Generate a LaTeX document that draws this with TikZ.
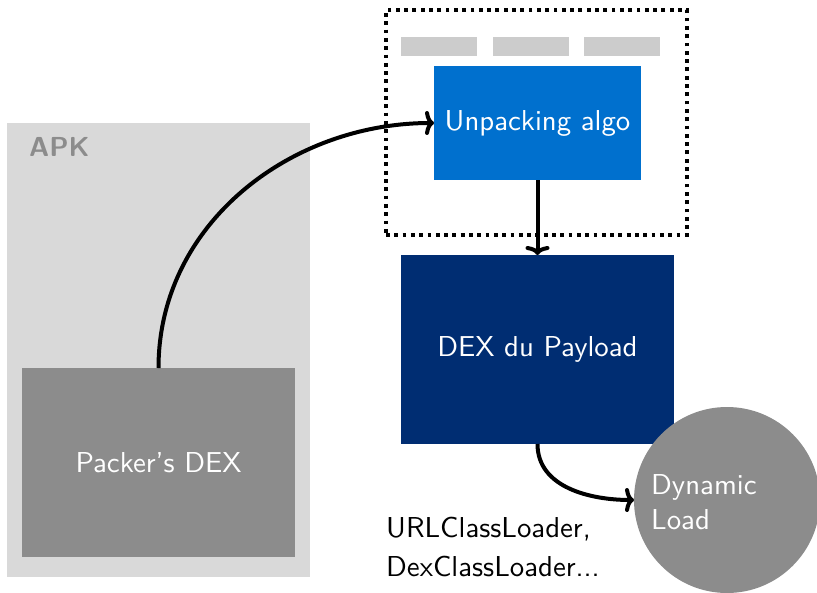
\documentclass[tikz,border=0pt]{standalone}
\usepackage{fontspec}
\usetikzlibrary{arrows.meta}
% Latin Modern Sans, 10pt design size, set large
\newfontfamily\boxfont{lmsans10-regular}[Extension=.otf,Ligatures=TeX]
\newfontfamily\labelfont{lmsans10-bold}[Extension=.otf,Ligatures=TeX]
\definecolor{apkgray}{RGB}{217,217,217}
\definecolor{midgray}{RGB}{140,140,140}
\definecolor{bargray}{RGB}{204,204,204}
\definecolor{algoblue}{RGB}{0,112,206}
\definecolor{navy}{RGB}{0,45,114}
\begin{document}
\begin{tikzpicture}[x=1pt,y=-1pt,
  font=\boxfont\fontsize{28.8}{35}\selectfont,
  block/.style={draw=none,inner sep=0pt,outer sep=0pt,text=white,anchor=north west},
  bar/.style={block,fill=bargray,minimum width=76pt,minimum height=19pt},
  note/.style={anchor=base west,inner sep=0pt},
  loadline/.style={anchor=base west,inner sep=0pt,text=white},
  link/.style={line width=4pt,-{To[length=9pt,width=24pt,round]}},
]
\useasboundingbox (0,0) rectangle (817,592);
% APK container
\node[block,fill=apkgray,minimum width=303pt,minimum height=454pt] (apk) at (7,123) {};
\node[anchor=base west,inner sep=0pt,text=midgray,font=\labelfont\fontsize{27.5}{32}\selectfont] (apklabel) at (29,156) {APK};
\node[block,fill=midgray,minimum width=273pt,minimum height=189pt] (packer) at (22,368) {Packer's DEX};
% dotted frame around the unpacking step
\node[draw,line width=3.8pt,dash pattern=on 3.8pt off 4.5pt,inner sep=0pt,outer sep=0pt,
      minimum width=301pt,minimum height=225pt,anchor=north west] (frame) at (386,10) {};
\node[bar] (bar1) at (401,37) {};
\node[bar] (bar2) at (493,37) {};
\node[bar] (bar3) at (584,37) {};
\node[block,fill=algoblue,minimum width=207pt,minimum height=114pt] (algo) at (434,66) {Unpacking algo};
% payload and loading
\node[block,fill=navy,minimum width=273pt,minimum height=189pt] (payload) at (401,255) {DEX du Payload};
\node[circle,fill=midgray,inner sep=0pt,outer sep=0pt,minimum size=186pt] (load) at (727,500) {};
\node[loadline] (load1) at (651,494) {Dynamic};
\node[loadline] (load2) at (651,529) {Load};
\node[note] (note1) at (386,537) {URLClassLoader,};
\node[note] (note2) at (386,576) {DexClassLoader...};
% connectors
\draw[link] (packer.north) to[out=90,in=180] (algo.west);
\draw[link] (algo.south) -- (payload.north);
\draw[link] (payload.south) to[out=-90,in=180] (load.west);
\end{tikzpicture}
\end{document}
